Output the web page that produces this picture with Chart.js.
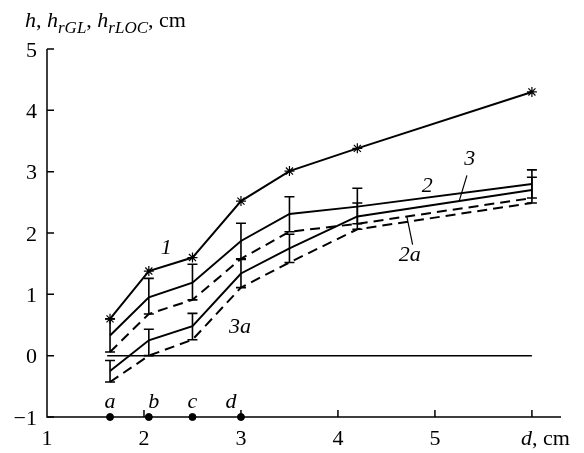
<!DOCTYPE html>
<html>
<head>
<meta charset="utf-8">
<script src="https://cdn.jsdelivr.net/npm/chart.js@4/dist/chart.umd.min.js"></script>
<style>
  html, body { margin: 0; padding: 0; background: #fff; }
  canvas { display: block; }
</style>
</head>
<body>
<canvas id="chart" width="584" height="453"></canvas>
<script>
// distance d, cm
const dist = [1.65, 2.05, 2.5, 3.0, 3.5, 4.2, 6.0];
// curve 1 (asterisks)
const h1 = [0.6, 1.38, 1.6, 2.52, 3.01, 3.38, 4.3];
// curve 2 with its spread; 2a is the lower bound
const h2 = [0.33, 0.95, 1.19, 1.87, 2.31, 2.43, 2.8];
const h2Hi = [0.6, 1.26, 1.49, 2.16, 2.59, 2.73, 3.03];
const h2a = [0.06, 0.68, 0.91, 1.58, 2.02, 2.15, 2.57];
// curve 3 with its spread; 3a is the lower bound
const h3 = [-0.25, 0.25, 0.48, 1.34, 1.75, 2.27, 2.7];
const h3Hi = [-0.08, 0.43, 0.69, 1.57, 1.98, 2.49, 2.91];
const h3a = [-0.43, 0.0, 0.26, 1.11, 1.52, 2.06, 2.49];
// marked positions on the bottom axis
const marks = ["a", "b", "c", "d"];
const markX = [1.65, 2.05, 2.5, 3.0];
const xTicks = [1, 2, 3, 4, 5];
const yTicks = [-1, 0, 1, 2, 3, 4, 5];

const SERIF = '"Liberation Serif", "Times New Roman", Times, serif';

const pts = (xs, ys) => xs.map((x, i) => ({ x: x, y: ys[i] }));

const solid = (data) => ({
  data, showLine: true, borderColor: "#000", borderWidth: 2,
  pointRadius: 0, tension: 0, clip: false
});
const dashed = (data) => ({ ...solid(data), borderDash: [10, 6] });

const extras = {
  id: "extras",
  afterDatasetsDraw(chart) {
    const ctx = chart.ctx;
    const sx = chart.scales.x, sy = chart.scales.y;
    const X = (v) => sx.getPixelForValue(v);
    const Y = (v) => sy.getPixelForValue(v);
    ctx.save();
    ctx.strokeStyle = "#000";
    ctx.fillStyle = "#000";

    // error bars
    ctx.lineWidth = 1.6;
    const bars = (lo, hi) => {
      dist.forEach((d, i) => {
        const x = X(d);
        ctx.beginPath();
        ctx.moveTo(x, Y(lo[i]));
        ctx.lineTo(x, Y(hi[i]));
        [lo[i], hi[i]].forEach((v) => {
          ctx.moveTo(x - 5, Y(v));
          ctx.lineTo(x + 5, Y(v));
        });
        ctx.stroke();
      });
    };
    bars(h2a, h2Hi);
    bars(h3a, h3Hi);

    // axes
    ctx.lineWidth = 1.5;
    ctx.beginPath();
    ctx.moveTo(X(1), Y(5));
    ctx.lineTo(X(1), Y(-1));
    ctx.lineTo(sx.right, Y(-1));
    ctx.stroke();
    ctx.beginPath();
    yTicks.forEach((t) => {
      ctx.moveTo(X(1), Y(t));
      ctx.lineTo(X(1) + 7, Y(t));
    });
    [2, 3, 4, 5, 6].forEach((t) => {
      ctx.moveTo(X(t), Y(-1));
      ctx.lineTo(X(t), Y(-1) - 7);
    });
    ctx.stroke();

    ctx.font = "22px " + SERIF;
    ctx.textBaseline = "middle";
    ctx.textAlign = "right";
    yTicks.forEach((t) => {
      ctx.fillText(t < 0 ? "\u2212" + Math.abs(t) : String(t), X(1) - 10, Y(t) + 2);
    });
    ctx.textAlign = "center";
    xTicks.forEach((t) => ctx.fillText(String(t), X(t), Y(-1) + 22));
    ctx.textAlign = "left";
    ctx.font = "italic 22px " + SERIF;
    ctx.fillText("d", X(6) - 11, Y(-1) + 22);
    const dw = ctx.measureText("d").width;
    ctx.font = "22px " + SERIF;
    ctx.fillText(", cm", X(6) - 11 + dw, Y(-1) + 22);

    // axis title
    let tx = 25;
    const ty = 27;
    ctx.textBaseline = "alphabetic";
    const put = (s, font, dy) => {
      ctx.font = font;
      ctx.fillText(s, tx, ty + dy);
      tx += ctx.measureText(s).width;
    };
    const it = "italic 22px " + SERIF, up = "22px " + SERIF, sub = "italic 17px " + SERIF;
    put("h", it, 0); put(", ", up, 0);
    put("h", it, 0); put("rGL", sub, 6); put(", ", up, 0);
    put("h", it, 0); put("rLOC", sub, 6); put(", cm", up, 0);

    // position letters over the dots
    ctx.font = "italic 22px " + SERIF;
    ctx.textAlign = "center";
    const markShift = [0, 5, 0, -10];
    marks.forEach((m, i) => ctx.fillText(m, X(markX[i]) + markShift[i], Y(-1) - 9));

    // curve numbers
    const labels = [["1", 2.23, 1.76], ["2", 4.92, 2.77], ["2a", 4.74, 1.63], ["3", 5.36, 3.2], ["3a", 2.99, 0.47]];
    ctx.textBaseline = "middle";
    labels.forEach(([s, x, y]) => ctx.fillText(s, X(x), Y(y)));

    // leaders
    ctx.lineWidth = 1.2;
    ctx.beginPath();
    ctx.moveTo(X(4.77), Y(1.81)); ctx.lineTo(X(4.71), Y(2.27));
    ctx.moveTo(X(5.33), Y(2.94)); ctx.lineTo(X(5.25), Y(2.52));
    ctx.stroke();
    ctx.restore();
  }
};

function draw() {
  new Chart(document.getElementById("chart").getContext("2d"), {
    type: "scatter",
    data: {
      datasets: [
        { data: [{ x: 1.62, y: 0 }, { x: 6.0, y: 0 }], showLine: true, borderColor: "#000",
          borderWidth: 1.5, pointRadius: 0, clip: false },
        { ...solid(pts(dist, h1)), pointStyle: "star", pointRadius: 5,
          pointBorderColor: "#000", pointBorderWidth: 1.2 },
        solid(pts(dist, h2)),
        dashed(pts(dist, h2a)),
        solid(pts(dist, h3)),
        dashed(pts(dist, h3a)),
        { data: markX.map((x) => ({ x: x, y: -1 })), showLine: false, pointRadius: 3.5,
          pointBackgroundColor: "#000", pointBorderColor: "#000", clip: false }
      ]
    },
    options: {
      responsive: false,
      animation: false,
      layout: { padding: { left: 47, right: 23, top: 49, bottom: 36 } },
      plugins: { legend: { display: false }, tooltip: { enabled: false } },
      scales: {
        x: { type: "linear", min: 1, max: 6.3, display: false },
        y: { type: "linear", min: -1, max: 5, display: false }
      }
    },
    plugins: [extras]
  });
}

// make sure the serif faces are ready before the canvas text is drawn
Promise.all([
  document.fonts.load('22px "Liberation Serif"'),
  document.fonts.load('italic 22px "Liberation Serif"')
]).then(draw, draw);
</script>
</body>
</html>
